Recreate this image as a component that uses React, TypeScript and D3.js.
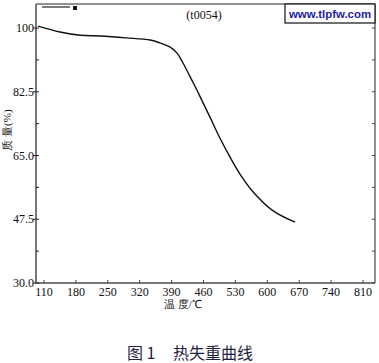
import React from 'react';
import * as d3 from 'd3';

// temperature (°C) and remaining mass (%)
const temps = [97, 145, 190, 233, 290, 343, 365, 386, 402, 415, 430, 452, 474, 496, 518, 540, 569, 613, 661];
const mass = [100.5, 98.9, 98.0, 97.8, 97.3, 96.7, 95.9, 94.8, 93.1, 90.4, 86.8, 81.3, 75.6, 69.8, 64.6, 59.9, 55.0, 49.8, 46.7];

const xTicks = [110, 180, 250, 320, 390, 460, 530, 600, 670, 740, 810];
const yTicks = [30, 47.5, 65, 82.5, 100];
const yMinor = [38.75, 56.25, 73.75, 91.25];

const W = 379;
const H = 363;

const App = () => {
  // frame: left 36, right 375, top 4, bottom 283
  const x = d3.scaleLinear().domain([110, 810]).range([44, 363]);
  const y = d3.scaleLinear().domain([30, 100]).range([283, 28]);
  const left = 36, right = 375, top = 4, bottom = 283;

  const line = d3.line<number>()
    .x((d, i) => x(temps[i]))
    .y(d => y(d))
    .curve(d3.curveCatmullRom.alpha(0.5));

  const serif = '"Liberation Serif", "Times New Roman", serif';

  return (
    <div style={{ position: 'absolute', top: 0, left: 0 }}>
      <svg width={W} height={H} style={{ display: 'block', background: '#fff' }}>
        {/* frame */}
        <line x1={left} x2={right} y1={top} y2={top} stroke="#222" strokeWidth={1} />
        <line x1={right} x2={right} y1={top} y2={bottom} stroke="#222" strokeWidth={1} />
        <line x1={left} x2={left} y1={top} y2={bottom + 1} stroke="#777" strokeWidth={2} />
        <line x1={left} x2={right} y1={bottom} y2={bottom} stroke="#777" strokeWidth={2} />

        {/* y ticks */}
        {yTicks.map(t => (
          <g key={t}>
            <line x1={left - 3} x2={left + 3} y1={y(t)} y2={y(t)} stroke="#222" />
            <line x1={right - 3} x2={right} y1={y(t)} y2={y(t)} stroke="#444" />
            <text x={left - 2} y={y(t)} dy="0.35em" textAnchor="end" fontFamily={serif} fontSize={12} fill="#111">
              {t === 100 ? '100' : t.toFixed(1)}
            </text>
          </g>
        ))}
        {yMinor.map(t => (
          <g key={t}>
            <line x1={left} x2={left + 3} y1={y(t)} y2={y(t)} stroke="#222" />
            <line x1={right - 3} x2={right} y1={y(t)} y2={y(t)} stroke="#444" />
          </g>
        ))}

        {/* x ticks */}
        {xTicks.map(t => (
          <g key={t}>
            <line x1={x(t)} x2={x(t)} y1={bottom} y2={bottom - 3} stroke="#444" />
            <text x={x(t)} y={296} textAnchor="middle" fontFamily={serif} fontSize={12} fill="#111">{t}</text>
          </g>
        ))}

        {/* curve */}
        <path d={line(mass) ?? ''} fill="none" stroke="#111" strokeWidth={1.4} />

        {/* legend */}
        <line x1={42} x2={70} y1={7} y2={7} stroke="#222" strokeWidth={1.2} />
        <rect x={73} y={6} width={4} height={4} fill="#111" />
        <text x={204} y={19} textAnchor="middle" fontFamily={serif} fontSize={12} fill="#111">(t0054)</text>

        {/* watermark */}
        <rect x={285} y={4} width={90} height={19} fill="#fff" stroke="#111" strokeWidth={1.2} />
        <text x={330} y={18} textAnchor="middle" fontFamily='"Liberation Sans", Arial, sans-serif' fontWeight="bold"
          fontSize={11.5} fill="#1c1ca8" textLength={82} lengthAdjust="spacingAndGlyphs">www.tlpfw.com</text>

        {/* axis titles */}
        <text transform="translate(11,130) rotate(-90)" textAnchor="middle" fontFamily={serif} fontSize={11} fill="#111">
          质 量(%)
        </text>
        <text x={183} y={308} textAnchor="middle" fontFamily={serif} fontSize={11} fill="#111">温 度/℃</text>

        {/* caption */}
        <text x={127} y={359} fontFamily='"Noto Sans CJK SC", serif' fontSize={16} fill="#1e2240">图 1</text>
        <text x={173} y={359} fontFamily='"Noto Sans CJK SC", serif' fontSize={16} fill="#1e2240">热失重曲线</text>
      </svg>
    </div>
  );
};

export default App;
